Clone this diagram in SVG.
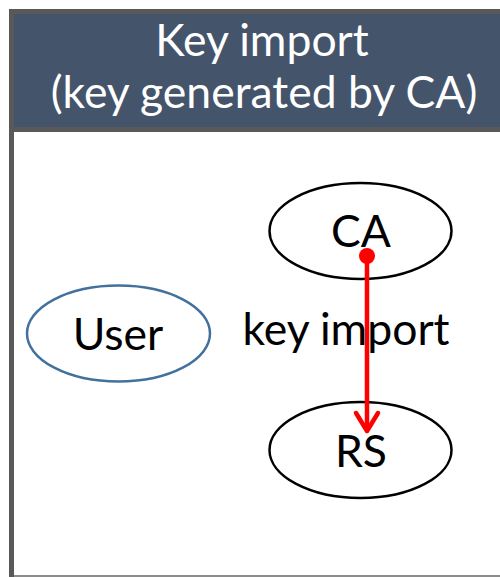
<svg xmlns="http://www.w3.org/2000/svg" width="500" height="577" viewBox="0 0 500 577">
<style>
.t{font-family:"Lato","Open Sans","Liberation Sans",sans-serif;text-anchor:middle}
.h{fill:#FFFFFF;font-size:44.5px}
.n{fill:#000000;font-size:44.5px}
.e{fill:#FFFFFF;stroke:#000000;stroke-width:2.5}
.red{fill:none;stroke:#FF0000;stroke-width:4.5;stroke-linecap:round;stroke-linejoin:round}
</style>
<rect x="0" y="0" width="500" height="577" fill="#FFFFFF"/>
<rect x="9" y="9" width="491" height="568" fill="#595959"/>
<rect x="14" y="14" width="486" height="113" fill="#44546A"/>
<rect x="14" y="132" width="486" height="443" fill="#FFFFFF"/>
<rect x="14" y="575" width="486" height="2" fill="#8C8C8C"/>
<g id="title">
<text class="t h" x="262" y="56">Key import</text>
<text class="t h" x="264" y="108">(key generated by CA)</text>
</g>
<g id="user">
<ellipse cx="118.5" cy="333.5" rx="91.5" ry="48" fill="#FFFFFF" stroke="#41719C" stroke-width="2.5"/>
<text class="t n" x="118" y="350">User</text>
</g>
<g id="ca">
<ellipse class="e" cx="360.5" cy="231" rx="91" ry="48"/>
<text class="t n" x="361" y="247">CA</text>
</g>
<g id="rs">
<ellipse class="e" cx="360.5" cy="450" rx="91" ry="48"/>
<text class="t n" x="361" y="467">RS</text>
</g>
<g id="connectors">
<circle cx="367" cy="256" r="8" fill="#FF0000"/>
<line x1="367" y1="256" x2="367" y2="430" class="red"/>
<polyline points="356,413 367,431 378,413" class="red"/>
<text class="t n" x="346" y="345">key import</text>
</g>
</svg>
